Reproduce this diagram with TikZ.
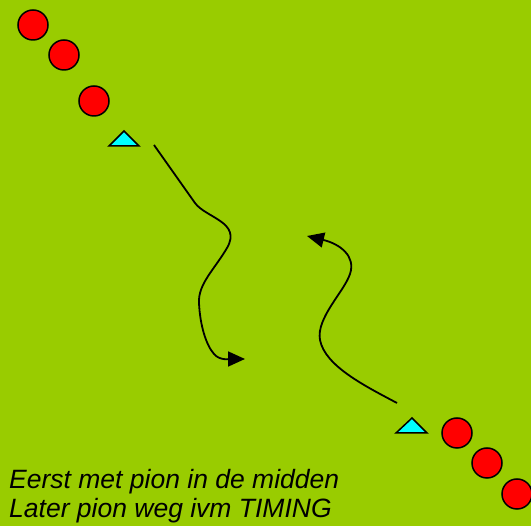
\documentclass[tikz,border=0pt]{standalone}
\usepackage{fontspec}
\setmainfont{Liberation Sans}
\usetikzlibrary{arrows.meta}
\definecolor{field}{HTML}{99CC00}
\definecolor{cone}{HTML}{00FFFF}
\tikzset{
  player/.style={circle, draw=black, fill=red, line width=1.5pt, minimum size=30pt, inner sep=0pt},
  pion/.style={draw=black, fill=cone, line width=1.5pt, line join=miter},
  run/.style={draw=black, line width=1.8pt, -{Triangle[length=17pt,width=15pt]}},
  caption/.style={font=\fontsize{26.5}{29}\selectfont\itshape, align=left, anchor=north west, inner sep=0pt}
}
\begin{document}
\begin{tikzpicture}[x=1pt, y=-1pt]
  \fill[field] (0,0) rectangle (531,526);
  \useasboundingbox (0,0) rectangle (531,526);

  % players, top-left row
  \node[player] (p1) at (33,25) {};
  \node[player] (p2) at (64,55) {};
  \node[player] (p3) at (94,101) {};
  % players, bottom-right row
  \node[player] (p4) at (457,433) {};
  \node[player] (p5) at (487,463) {};
  \node[player] (p6) at (517,494) {};

  % cones
  \draw[pion] (124,131) -- (139,146) -- (109,146) -- cycle;
  \draw[pion] (412,418) -- (427,433) -- (396,433) -- cycle;

  % runs
  \coordinate (a1) at (154,145);
  \coordinate (a2) at (245,359);
  \draw[run] (a1) -- (195,203)
    .. controls (206,218) and (242,222) .. (227,248)
    .. controls (214,270) and (198,284) .. (199,303)
    .. controls (200,325) and (206,345) .. (214,354)
    .. controls (220,361) and (230,359) .. (a2);

  \coordinate (b1) at (397,403);
  \coordinate (b2) at (307,236);
  \draw[run] (b1)
    .. controls (365,386) and (325,366) .. (320,340)
    .. controls (316,318) and (344,292) .. (350,274)
    .. controls (356,256) and (340,244) .. (b2);

  % caption
  \node[caption] (txt) at (9,469) {Eerst met pion in de midden\\Later pion weg ivm TIMING};
\end{tikzpicture}
\end{document}
